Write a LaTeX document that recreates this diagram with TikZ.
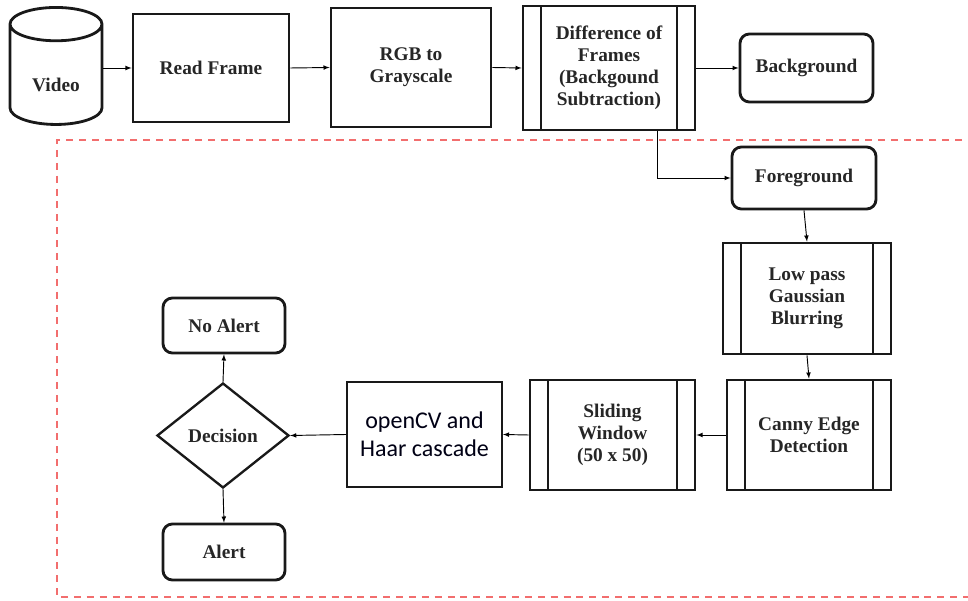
\documentclass[tikz,border=0pt]{standalone}
\usepackage{fontspec}
\setmainfont{Liberation Serif}
\newfontfamily\cvfont{Carlito}
\usetikzlibrary{shapes.geometric}
\definecolor{dashred}{RGB}{242,110,110}
\tikzset{
  box/.style={draw=black!90, line width=2.4pt, rectangle, align=center, inner sep=0pt,
    font=\bfseries\fontsize{16.5}{18.7}\selectfont, text=black!85},
  procbox/.style={box, path picture={
    \draw[line width=2.4pt] ([xshift=0.54cm]path picture bounding box.north west) -- ([xshift=0.54cm]path picture bounding box.south west);
    \draw[line width=2.4pt] ([xshift=-0.54cm]path picture bounding box.north east) -- ([xshift=-0.54cm]path picture bounding box.south east);}},
  endbox/.style={box, rounded corners=8pt},
  every edge/.style={draw, line width=0.8pt},
}
\begin{document}
\begin{tikzpicture}[>=latex, x=0.03cm, y=-0.03cm]
\useasboundingbox (0,0) rectangle (968,601);

% region of the foreground processing
\draw[dashred, line width=2.4pt, dash pattern=on 6pt off 5pt] (975,140) -- (57,140) -- (57,597) -- (975,597);

\node(Video)[box, cylinder, shape border rotate=90, aspect=0.7, minimum width=2.76cm, minimum height=3.51cm] at (56,75) {\raisebox{-0.5cm}[0pt][0pt]{Video}};
\node(Read)[box, minimum width=4.68cm, minimum height=3.24cm] at (211,68) {Read Frame};
\node(Gray)[box, minimum width=4.8cm, minimum height=3.57cm] at (411,67.5) {RGB to\\Grayscale};
\node(Diff)[procbox, minimum width=5.16cm, minimum height=3.72cm] at (609,68) {Difference of\\Frames\\(Backgound\\Subtraction)};
\node(Back)[endbox, minimum width=3.99cm, minimum height=2.04cm] at (806.5,68) {Background};

\node(Fore)[endbox, minimum width=4.32cm, minimum height=1.86cm] at (804,178) {Foreground};
\node(Blur)[procbox, minimum width=5.04cm, minimum height=3.33cm] at (807,298.5) {Low pass\\Gaussian\\Blurring};
\node(Canny)[procbox, minimum width=4.92cm, minimum height=3.3cm] at (809,435) {Canny Edge\\Detection};
\node(Slide)[procbox, minimum width=4.95cm, minimum height=3.3cm] at (612.5,435) {Sliding\\Window\\(50 x 50)};
\node(Haar)[box, line width=1.6pt, minimum width=4.65cm, minimum height=3.15cm,
  font=\cvfont\fontsize{20.5}{24}\selectfont, text=black!92!blue] at (424.5,434.5) {openCV and\\Haar cascade};
\node(Dec)[box, diamond, line width=2pt, minimum width=3.96cm, minimum height=3.15cm] at (223,435.5) {Decision};
\node(NoAlert)[endbox, minimum width=3.66cm, minimum height=1.65cm] at (224,325.5) {No Alert};
\node(Alert)[endbox, minimum width=3.66cm, minimum height=1.68cm] at (224,552) {Alert};

\draw (Video.east |- Read.west) edge[->] (Read.west);
\draw (Read.east) edge[->] (Gray.west);
\draw (Gray.east) edge[->] (Diff.west);
\draw (Diff.east) edge[->] (Back.west);
\draw[->, line width=0.8pt] ([xshift=1.44cm]Diff.south) |- (Fore.west);
\draw (Fore.south) edge[->] (Blur.north);
\draw (Blur.south) edge[->] (Canny.north);
\draw (Canny.west) edge[->] (Slide.east);
\draw (Slide.west) edge[->] (Haar.east);
\draw (Haar.west) edge[->] (Dec.east);
\draw (Dec.north) edge[->] (NoAlert.south);
\draw (Dec.south) edge[->] (Alert.north);
\end{tikzpicture}
\end{document}
